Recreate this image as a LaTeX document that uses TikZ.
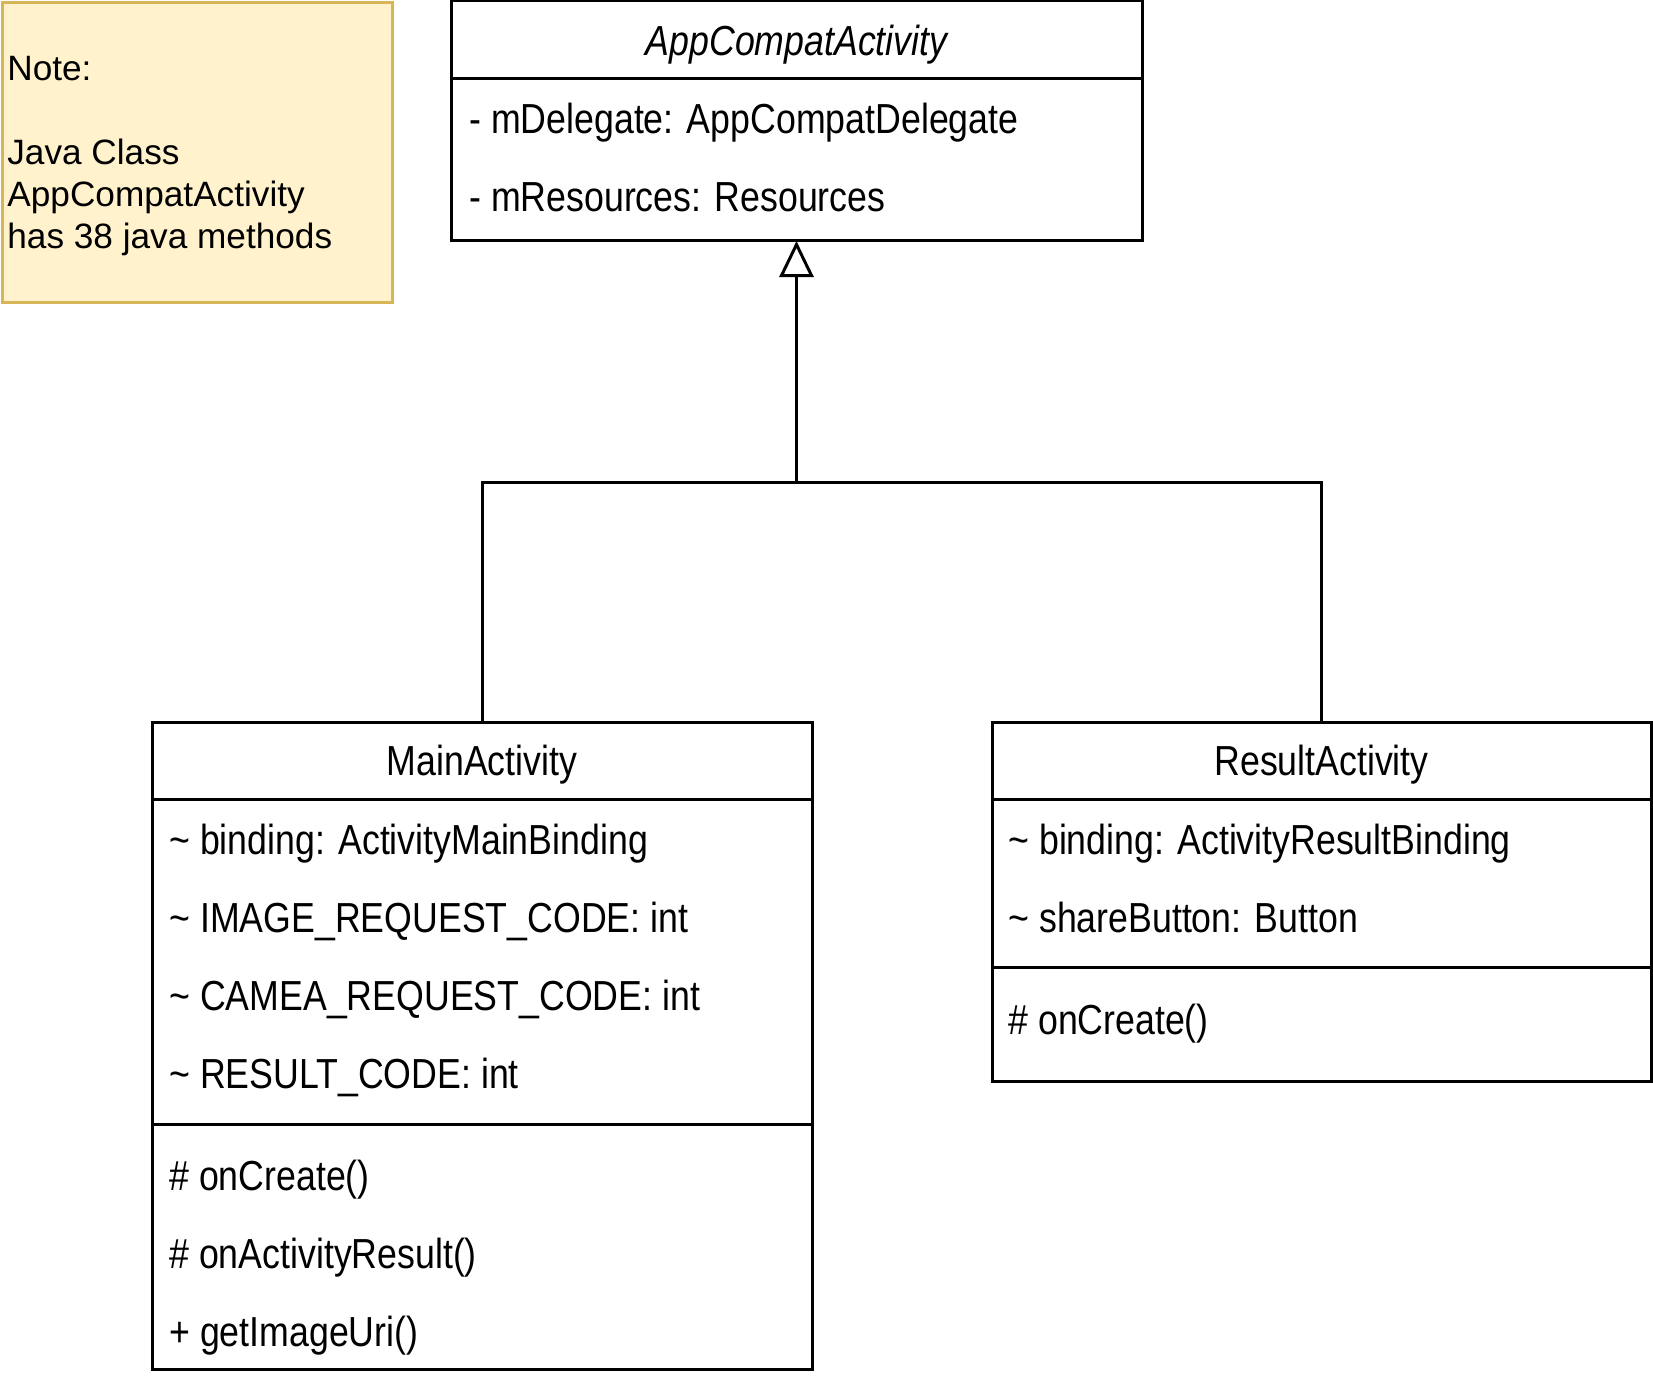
\documentclass[tikz,border=0pt]{standalone}
\usepackage{fontspec}
\setmainfont{Liberation Sans}
\newfontfamily\umlfont{Liberation Sans}[FakeStretch=0.85]
\usetikzlibrary{arrows.meta,positioning}
\definecolor{notefill}{HTML}{FFF2CC}
\definecolor{noteline}{HTML}{D6B656}
\tikzset{
  compart/.style={draw,line width=1.5pt,inner sep=0pt,outer sep=0pt,anchor=north west,
    text depth=0pt,font=\umlfont\fontsize{21}{25}\selectfont},
  member/.style={anchor=base west,inner sep=0pt,font=\umlfont\fontsize{21}{25}\selectfont},
  inherit/.style={line width=1.5pt,-{Triangle[open,length=18pt,width=17pt]}},
}
\begin{document}
\begin{tikzpicture}[x=0.5pt,y=-0.5pt]
\useasboundingbox (0,0) rectangle (1653,1380);
% note
\node[draw=noteline,fill=notefill,line width=1.5pt,anchor=north west,inner sep=0pt,
  minimum width=195pt,minimum height=150pt] (note) at (1,1) {};
\node[anchor=west,inner sep=0pt,align=left,font=\fontsize{17.6}{21}\selectfont] (noteText)
  at ([xshift=3pt,yshift=-2pt]note.west)
  {Note:\\\mbox{}\\Java Class\\AppCompatActivity\\has 38 java methods};
% AppCompatActivity
\node[compart,minimum width=345.5pt,minimum height=39pt] (acaHead) at (451,1) {\itshape AppCompatActivity};
\node[compart,minimum width=345.5pt,minimum height=81pt] (acaAttr) at (acaHead.south west) {};
\node[member] (acaA1) at (469,134) {- mDelegate: AppCompatDelegate};
\node[member] (acaA2) at (469,212) {- mResources: Resources};
% MainActivity
\node[compart,minimum width=330pt,minimum height=38.5pt] (mainHead) at (152,722) {MainActivity};
\node[compart,minimum width=330pt,minimum height=162.5pt] (mainAttr) at (mainHead.south west) {};
\node[compart,minimum width=330pt,minimum height=122.5pt] (mainMeth) at (mainAttr.south west) {};
\foreach \t [count=\i] in {binding: ActivityMainBinding,IMAGE\_REQUEST\_CODE: int,
    CAMEA\_REQUEST\_CODE: int,RESULT\_CODE: int}
  \node[member] (mainA\i) at (169,776+78*\i) {\textasciitilde{} \t};
\node[member] (mainM1) at (169,1190) {\# onCreate()};
\node[member] (mainM2) at (169,1268) {\# onActivityResult()};
\node[member] (mainM3) at (169,1346) {+ getImageUri()};
% ResultActivity
\node[compart,minimum width=329.5pt,minimum height=38.5pt] (resHead) at (992,722) {ResultActivity};
\node[compart,minimum width=329.5pt,minimum height=84pt] (resAttr) at (resHead.south west) {};
\node[compart,minimum width=329.5pt,minimum height=57pt] (resMeth) at (resAttr.south west) {};
\node[member] (resA1) at (1008,854) {\textasciitilde{} binding: ActivityResultBinding};
\node[member] (resA2) at (1008,932) {\textasciitilde{} shareButton: Button};
\node[member] (resM1) at (1008,1034) {\# onCreate()};
% inheritance
\coordinate (joint) at (796.5,482);
\draw[line width=1.5pt] (mainHead.north) |- (joint) -| (resHead.north);
\draw[inherit] (joint) -- (acaAttr.south);
\end{tikzpicture}
\end{document}
